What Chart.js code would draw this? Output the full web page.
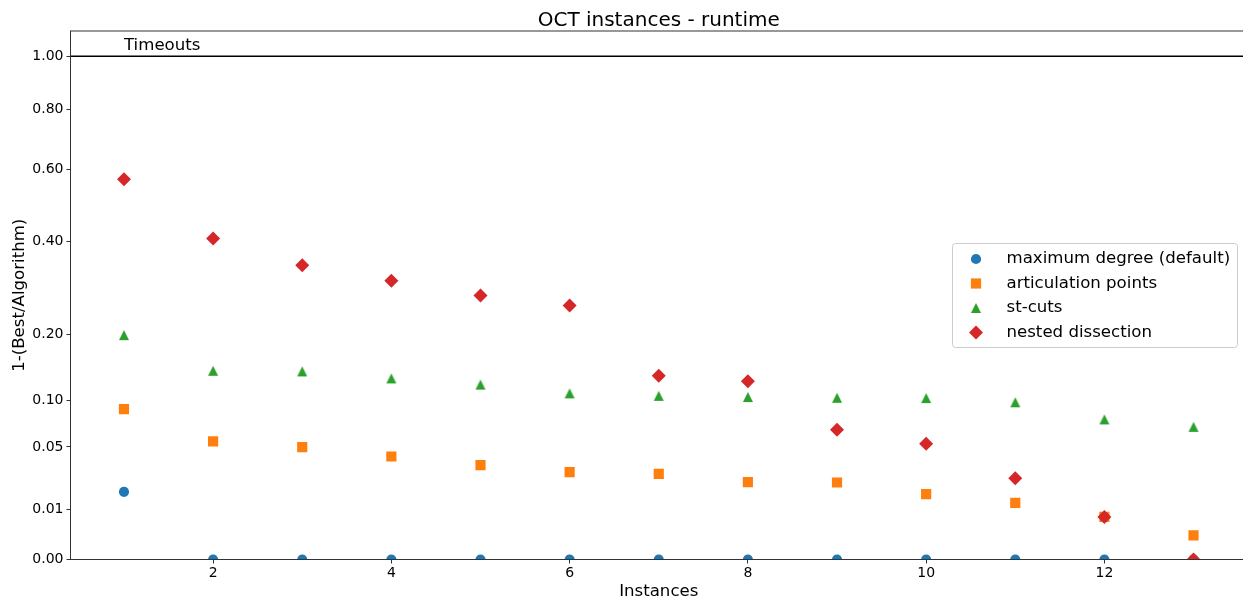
<!DOCTYPE html>
<html>
<head>
<meta charset="utf-8">
<title>OCT instances - runtime</title>
<script src="https://cdn.jsdelivr.net/npm/chart.js@4/dist/chart.umd.min.js"></script>
<style>
  html, body { margin: 0; padding: 0; background: #fff; overflow: hidden; }
  #chart { display: block; }
</style>
</head>
<body>
<canvas id="chart" width="1248" height="603"></canvas>
<script>
// ---- data ----
const instances = [1, 2, 3, 4, 5, 6, 7, 8, 9, 10, 11, 12, 13];
const maximumDegree = [0.0181, 0, 0, 0, 0, 0, 0, 0, 0, 0, 0, 0, 0];
const articulationPoints = [0.0893, 0.0551, 0.0499, 0.0419, 0.0352, 0.0302, 0.0290, 0.0236, 0.0234, 0.0169, 0.0127, 0.0072, 0.0023];
const stCuts = [0.1988, 0.1406, 0.1397, 0.1295, 0.1208, 0.1090, 0.1058, 0.1042, 0.1033, 0.1029, 0.0976, 0.0775, 0.0695];
const nestedDissection = [0.5710, 0.4070, 0.3420, 0.3066, 0.2753, 0.2549, 0.1333, 0.1253, 0.0665, 0.0529, 0.0260, 0.0071, 0];
const seriesNames = ['maximum degree (default)', 'articulation points', 'st-cuts', 'nested dissection'];
const yTickValues = [0, 0.01, 0.05, 0.10, 0.20, 0.40, 0.60, 0.80, 1.00];
const xTickValues = [2, 4, 6, 8, 10, 12];
const timeoutLevel = 1.0;
const timeoutLabel = 'Timeouts';

const FONT = "'DejaVu Sans', 'Liberation Sans', sans-serif";
const DARK = '#333333';

// square-root value axis: pixel distance grows with sqrt(value)
class SqrtScale extends Chart.LinearScale {
  configure() {
    super.configure();
    this._startValue = Math.sqrt(Math.max(this.min, 0));
    this._valueRange = Math.sqrt(this.max) - this._startValue;
  }
  getPixelForValue(value) {
    if (value === undefined || value === null || isNaN(value)) return NaN;
    return this.getPixelForDecimal((Math.sqrt(Math.max(value, 0)) - this._startValue) / this._valueRange);
  }
  getValueForPixel(pixel) {
    const s = this._startValue + this.getDecimalForPixel(pixel) * this._valueRange;
    return s * s;
  }
}
SqrtScale.id = 'sqrt';
SqrtScale.defaults = {};
Chart.register(SqrtScale);

// isosceles up-triangle marker (width == height)
function triangleMarker(size, color) {
  const c = document.createElement('canvas');
  c.width = size + 2; c.height = size + 2;
  const g = c.getContext('2d');
  const m = 1;
  g.fillStyle = color;
  g.beginPath();
  g.moveTo(m + size / 2, m);
  g.lineTo(m + size, m + size);
  g.lineTo(m, m + size);
  g.closePath();
  g.fill();
  return c;
}

const colors = ['#1f77b4', '#ff7f0e', '#2ca02c', '#d62728'];
const styles = ['circle', 'rect', triangleMarker(10, colors[2]), 'rectRot'];
const radii = [5.1, 7.2, 5.5, 7];
const seriesValues = [maximumDegree, articulationPoints, stCuts, nestedDissection];

const datasets = seriesValues.map((vals, i) => ({
  label: seriesNames[i],
  data: instances.map((x, k) => ({ x: x, y: vals[k] })),
  backgroundColor: colors[i],
  borderColor: colors[i],
  borderWidth: 0,
  pointStyle: styles[i],
  pointRadius: radii[i],
  pointHoverRadius: radii[i],
  showLine: false,
  clip: 0,
  order: 3 - i
}));

// frame, timeout reference line, title and legend
const decorations = {
  id: 'decorations',
  beforeDatasetsDraw(chart) {
    const { ctx, chartArea: a, scales } = chart;
    const yT = scales.y.getPixelForValue(timeoutLevel);
    ctx.save();
    ctx.strokeStyle = '#000';
    ctx.lineWidth = 1.6;
    ctx.beginPath();
    ctx.moveTo(a.left, yT);
    ctx.lineTo(a.right, yT);
    ctx.stroke();
    ctx.fillStyle = '#000';
    ctx.font = '16.6px ' + FONT;
    ctx.textAlign = 'left';
    ctx.textBaseline = 'alphabetic';
    ctx.fillText(timeoutLabel, scales.x.getPixelForValue(instances[0]), yT - 6);
    ctx.restore();
  },
  afterDraw(chart) {
    const { ctx, chartArea: a } = chart;
    ctx.save();
    // frame
    ctx.strokeStyle = DARK;
    ctx.lineWidth = 1;
    ctx.strokeRect(a.left, a.top, a.right - a.left, a.bottom - a.top);
    // title
    ctx.fillStyle = '#000';
    ctx.font = '20px ' + FONT;
    ctx.textAlign = 'center';
    ctx.textBaseline = 'alphabetic';
    ctx.fillText('OCT instances - runtime', (a.left + a.right) / 2, 26);
    // legend
    const bx = 952.5, by = 243.5, bw = 285, bh = 104, r = 3;
    ctx.fillStyle = 'rgba(255,255,255,0.8)';
    ctx.strokeStyle = '#cccccc';
    ctx.beginPath();
    ctx.moveTo(bx + r, by);
    ctx.arcTo(bx + bw, by, bx + bw, by + bh, r);
    ctx.arcTo(bx + bw, by + bh, bx, by + bh, r);
    ctx.arcTo(bx, by + bh, bx, by, r);
    ctx.arcTo(bx, by, bx + bw, by, r);
    ctx.closePath();
    ctx.fill();
    ctx.stroke();
    const rowY = [259, 283.5, 308, 332.5];
    chart.data.datasets.forEach((ds, i) => {
      ctx.fillStyle = ds.backgroundColor;
      ctx.strokeStyle = ds.borderColor;
      Chart.helpers.drawPoint(ctx, { pointStyle: ds.pointStyle, radius: ds.pointRadius, borderWidth: 0, rotation: 0 }, 976, rowY[i]);
      ctx.fillStyle = '#000';
      ctx.font = '16.6px ' + FONT;
      ctx.textAlign = 'left';
      ctx.textBaseline = 'middle';
      ctx.fillText(ds.label, 1006.5, rowY[i]);
    });
    ctx.restore();
  }
};

new Chart(document.getElementById('chart'), {
  type: 'scatter',
  data: { datasets },
  plugins: [decorations],
  options: {
    responsive: false,
    animation: false,
    events: [],
    devicePixelRatio: 1,
    layout: { autoPadding: false, padding: { left: 0, right: 1, top: 31, bottom: 0 } },
    plugins: { legend: { display: false }, title: { display: false }, tooltip: { enabled: false } },
    scales: {
      x: {
        type: 'linear',
        min: 0.4,
        max: 13.6,
        afterFit(s) { s.height = 43.5; s.paddingLeft = 0; s.paddingRight = 0; },
        afterBuildTicks(s) { s.ticks = xTickValues.map(v => ({ value: v })); },
        grid: { display: true, drawOnChartArea: false, drawTicks: true, tickLength: 4, tickColor: DARK, tickWidth: 1 },
        border: { display: true, color: DARK, width: 1 },
        ticks: { autoSkip: false, maxRotation: 0, padding: 1, color: '#000', font: { family: FONT, size: 14 }, callback: v => String(v) },
        title: { display: true, text: 'Instances', color: '#000', font: { family: FONT, size: 16.6 }, padding: { top: 0, bottom: 1.3 } }
      },
      y: {
        type: 'sqrt',
        min: 0,
        max: 1.103,
        afterFit(s) { s.width = 70.5; s.paddingTop = 0; s.paddingBottom = 0; },
        afterBuildTicks(s) { s.ticks = yTickValues.map(v => ({ value: v })); },
        grid: { display: true, drawOnChartArea: false, drawTicks: true, tickLength: 4, tickColor: DARK, tickWidth: 1 },
        border: { display: true, color: DARK, width: 1 },
        ticks: { autoSkip: false, padding: 3, color: '#000', font: { family: FONT, size: 14 }, callback: v => Number(v).toFixed(2) },
        title: { display: true, text: '1-(Best/Algorithm)', color: '#000', font: { family: FONT, size: 16.6 }, padding: { top: 9.3, bottom: 0 } }
      }
    }
  }
});
</script>
</body>
</html>
